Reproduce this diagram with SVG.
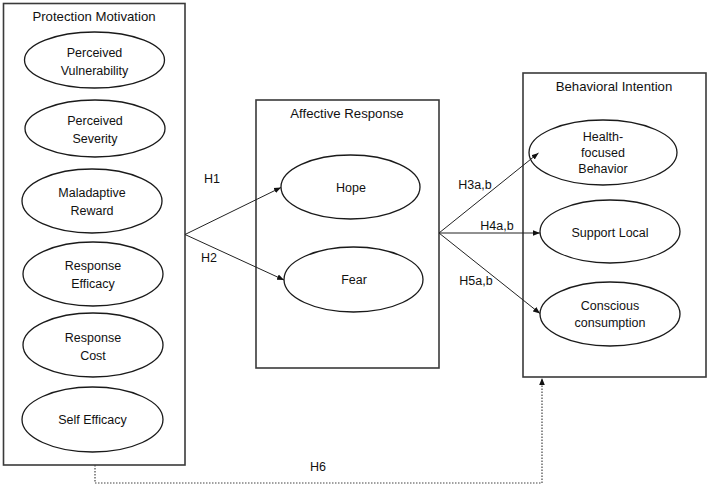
<svg xmlns="http://www.w3.org/2000/svg" width="709" height="487" viewBox="0 0 709 487">
<style>
.box{fill:#fff;stroke:#3a3a3a;stroke-width:1.6}
.ell{fill:#fff;stroke:#1a1a1a;stroke-width:1.3}
text{font-family:"Liberation Sans",Arial,sans-serif;font-size:12.5px;fill:#111;text-anchor:middle}
.title{font-size:13.2px}
.con{stroke:#222;stroke-width:1;fill:none}
.dot{stroke:#444;stroke-width:1.2;fill:none;stroke-dasharray:1.5 1.5}
</style>
<defs>
<marker id="ah" viewBox="0 0 10 10" refX="10" refY="5" markerWidth="7" markerHeight="7" orient="auto" markerUnits="userSpaceOnUse">
<path d="M0,1 L10,5 L0,9 z" fill="#111"/>
</marker>
</defs>
<g id="protection-motivation">
<rect class="box" x="3.5" y="3.5" width="181.5" height="461.5"/>
<text class="title" x="94" y="21">Protection Motivation</text>
</g>
<g id="perceived-vulnerability">
<ellipse class="ell" cx="94.5" cy="60" rx="70" ry="28"/>
<text x="94.5" y="57">Perceived</text>
<text x="94.5" y="75">Vulnerability</text>
</g>
<g id="perceived-severity">
<ellipse class="ell" cx="95" cy="128.5" rx="70" ry="28.5"/>
<text x="95" y="125">Perceived</text>
<text x="95" y="143">Severity</text>
</g>
<g id="maladaptive-reward">
<ellipse class="ell" cx="92" cy="201" rx="70" ry="32"/>
<text x="92" y="197">Maladaptive</text>
<text x="92" y="215">Reward</text>
</g>
<g id="response-efficacy">
<ellipse class="ell" cx="93" cy="274" rx="70" ry="32"/>
<text x="93" y="270">Response</text>
<text x="93" y="288">Efficacy</text>
</g>
<g id="response-cost">
<ellipse class="ell" cx="93" cy="345" rx="70" ry="32"/>
<text x="93" y="342">Response</text>
<text x="93" y="360">Cost</text>
</g>
<g id="self-efficacy">
<ellipse class="ell" cx="92.5" cy="419.5" rx="70.5" ry="32.5"/>
<text x="92.5" y="424">Self Efficacy</text>
</g>
<g id="affective-response">
<rect class="box" x="256" y="100" width="183" height="268"/>
<text class="title" x="347" y="118">Affective Response</text>
</g>
<g id="hope">
<ellipse class="ell" cx="350.5" cy="187" rx="69.5" ry="32"/>
<text x="351" y="192">Hope</text>
</g>
<g id="fear">
<ellipse class="ell" cx="353.5" cy="279.5" rx="69.5" ry="32.5"/>
<text x="354" y="284">Fear</text>
</g>
<g id="behavioral-intention">
<rect class="box" x="523" y="73" width="183" height="304"/>
<text class="title" x="614" y="91">Behavioral Intention</text>
</g>
<g id="health-focused-behavior">
<ellipse class="ell" cx="603" cy="152.5" rx="74" ry="32.5"/>
<text x="603" y="141">Health-</text>
<text x="603" y="157">focused</text>
<text x="603" y="173">Behavior</text>
</g>
<g id="support-local">
<ellipse class="ell" cx="610" cy="231.5" rx="70" ry="31.5"/>
<text x="610" y="237">Support Local</text>
</g>
<g id="conscious-consumption">
<ellipse class="ell" cx="610" cy="314" rx="70" ry="32"/>
<text x="610" y="310">Conscious</text>
<text x="610" y="327">consumption</text>
</g>
<g id="connectors">
<line class="con" x1="185" y1="234.5" x2="281" y2="187.5" marker-end="url(#ah)"/>
<line class="con" x1="185" y1="234.5" x2="284" y2="280" marker-end="url(#ah)"/>
<line class="con" x1="439" y1="233" x2="538.5" y2="153" marker-end="url(#ah)"/>
<line class="con" x1="439" y1="233" x2="540" y2="233" marker-end="url(#ah)"/>
<line class="con" x1="439" y1="233" x2="540" y2="313.5" marker-end="url(#ah)"/>
<polyline class="dot" points="95,465 95,483 542,483 542,378" marker-end="url(#ah)"/>
<text x="212" y="183">H1</text>
<text x="209" y="262">H2</text>
<text x="475" y="189">H3a,b</text>
<text x="497" y="230">H4a,b</text>
<text x="476" y="285">H5a,b</text>
<text x="318" y="471">H6</text>
</g>
</svg>
